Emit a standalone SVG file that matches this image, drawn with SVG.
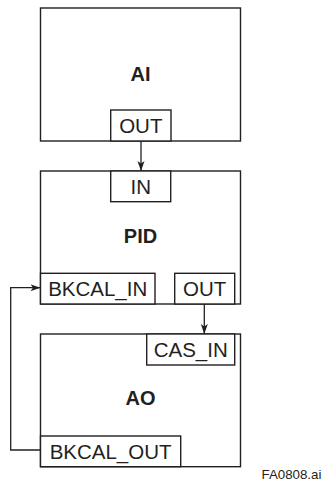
<svg xmlns="http://www.w3.org/2000/svg" width="322" height="481" viewBox="0 0 322 481">
<style>
.blk{fill:#fff;stroke:#231f20;stroke-width:1.4}
.port{fill:#fff;stroke:#231f20;stroke-width:1.4}
.lbl{font-family:"Liberation Sans",Arial,sans-serif;font-size:20.5px;fill:#231f20;text-anchor:middle}
.ttl{font-family:"Liberation Sans",Arial,sans-serif;font-size:20px;font-weight:bold;fill:#231f20;text-anchor:middle}
.con{fill:none;stroke:#231f20;stroke-width:1.3}
.note{font-family:"Liberation Sans",Arial,sans-serif;font-size:13.3px;fill:#231f20}
</style>
<defs>
<marker id="ah" markerWidth="11" markerHeight="8" refX="10" refY="3.5" orient="auto" markerUnits="userSpaceOnUse">
<path d="M0,0 L10,3.5 L0,7 L2.5,3.5 z" fill="#231f20"/>
</marker>
</defs>
<g id="AI">
<rect class="blk" x="40.5" y="8" width="200" height="133"/>
<text class="ttl" x="140.5" y="81">AI</text>
<rect class="port" x="110.7" y="110" width="60.3" height="31"/>
<text class="lbl" x="140.8" y="133">OUT</text>
</g>
<g id="PID">
<rect class="blk" x="40.5" y="171" width="200" height="133"/>
<rect class="port" x="110.7" y="171" width="60" height="30.7"/>
<text class="lbl" x="140.7" y="193.5">IN</text>
<text class="ttl" x="140.5" y="243">PID</text>
<rect class="port" x="40.5" y="273.3" width="114.5" height="30.7"/>
<text class="lbl" x="97.7" y="296">BKCAL_IN</text>
<rect class="port" x="174.7" y="273.3" width="60" height="30.7"/>
<text class="lbl" x="204.7" y="296">OUT</text>
</g>
<g id="AO">
<rect class="blk" x="40.5" y="334" width="200" height="132.7"/>
<rect class="port" x="146.7" y="334" width="88" height="31"/>
<text class="lbl" x="190.7" y="357">CAS_IN</text>
<text class="ttl" x="140.5" y="405">AO</text>
<rect class="port" x="40.5" y="436" width="140.2" height="30.7"/>
<text class="lbl" x="110.6" y="458.5">BKCAL_OUT</text>
</g>
<g id="connectors">
<path class="con" d="M141,141 V171" marker-end="url(#ah)"/>
<path class="con" d="M204.3,304 V334" marker-end="url(#ah)"/>
<path class="con" d="M40.5,450 H10.7 V287.7 H40.5" marker-end="url(#ah)"/>
</g>
<text class="note" x="261.5" y="479">FA0808.ai</text>
</svg>
